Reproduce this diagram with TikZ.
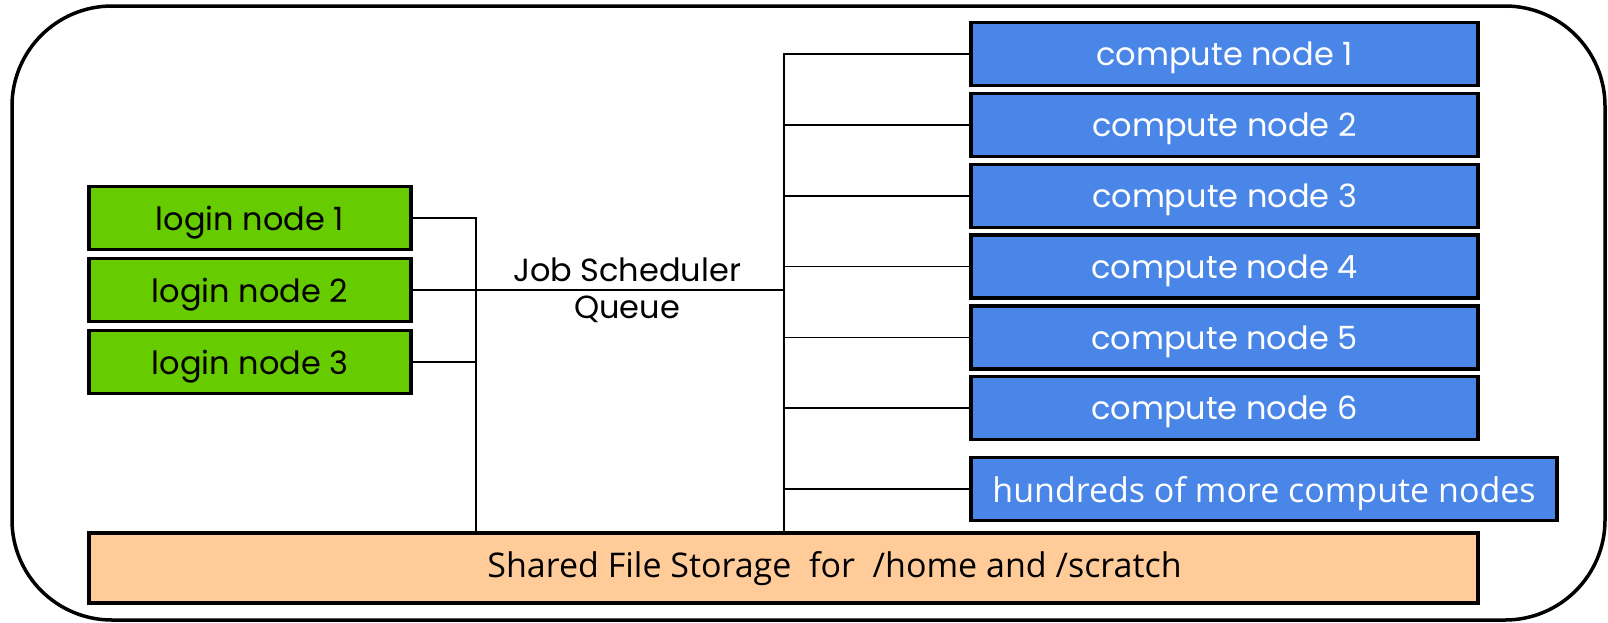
\documentclass[tikz,border=0pt]{standalone}
\usepackage{fontspec}
\setmainfont{Poppins}
\newfontfamily\opensans{Open Sans}
\definecolor{logingreen}{HTML}{66CC00}
\definecolor{computeblue}{HTML}{4A86E8}
\definecolor{storeorange}{HTML}{FFCC99}
\tikzset{
  nodebox/.style={draw=black,line width=3.5pt,inner sep=0pt,minimum height=63pt,text depth=0pt},
  loginbox/.style={nodebox,fill=logingreen,minimum width=322pt,font=\fontsize{32}{36}\selectfont},
  computebox/.style={nodebox,fill=computeblue,text=white,minimum width=507pt,font=\fontsize{32}{36}\selectfont},
  storebox/.style={nodebox,fill=storeorange,minimum width=1389pt,minimum height=70pt,text depth=8pt,font=\opensans\fontsize{34}{38}\selectfont},
  wire/.style={line width=1.5pt}
}
\begin{document}
\begin{tikzpicture}[x=1pt,y=-1pt]
	\useasboundingbox (0,0) rectangle (1608,622);
	\draw [line width=3.5pt,rounded corners=100pt] (12,6) rectangle (1605,620);
	
	\node [loginbox] (l1) at (250,218) {login node 1};
	\node [loginbox] (l2) at (250,290) {login node 2};
	\node [loginbox] (l3) at (250,362) {login node 3};
	
	\node [computebox] (c1) at (1224.5,54) {compute node 1};
	\node [computebox] (c2) at (1224.5,125) {compute node 2};
	\node [computebox] (c3) at (1224.5,196) {compute node 3};
	\node [computebox] (c4) at (1224.5,266.5) {compute node 4};
	\node [computebox] (c5) at (1224.5,337.5) {compute node 5};
	\node [computebox] (c6) at (1224.5,408) {compute node 6};
	\node [computebox,minimum width=586pt,font=\opensans\fontsize{34}{38}\selectfont] (cmore) at (1264,489) {hundreds of more compute nodes};
	
	\node [storebox] (store) at (783.5,568) {\hspace*{102pt}Shared File Storage\ \ for\ \ /home and /scratch};
	
	\coordinate (lbus) at (476,0); \coordinate (rbus) at (784,0);
	\draw [wire] (l1.east) -| (lbus |- store.north);
	\draw [wire] (l2.east) -- (l2 -| lbus); \draw [wire] (l3.east) -- (l3 -| lbus);
	\draw [wire] (l2 -| lbus) -- (l2 -| rbus);
	\node [align=center,font=\fontsize{32}{37}\selectfont] (sched) at (627,290) {Job Scheduler\\Queue};
	
	\draw [wire] (c1.west) -| (rbus |- store.north);
	\draw [wire] (c2.west) -- (c2 -| rbus); \draw [wire] (c3.west) -- (c3 -| rbus);
	\draw [wire] (c4.west) -- (c4 -| rbus); \draw [wire] (c5.west) -- (c5 -| rbus);
	\draw [wire] (c6.west) -- (c6 -| rbus); \draw [wire] (cmore.west) -- (cmore -| rbus);
\end{tikzpicture}
\end{document}
